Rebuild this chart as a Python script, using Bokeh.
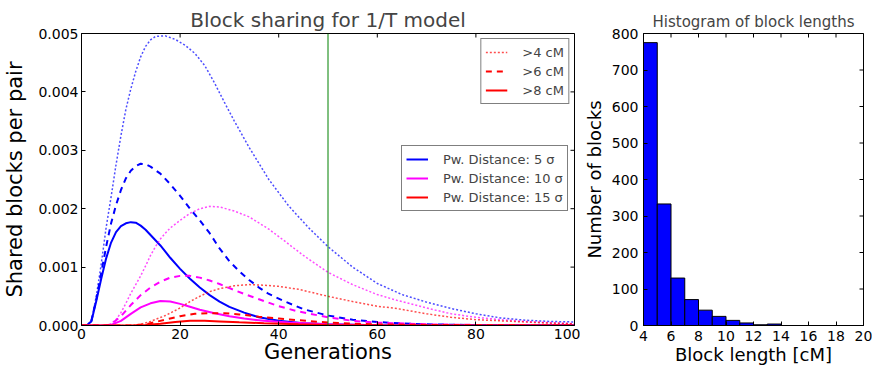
import numpy as np
from bokeh.plotting import figure
from bokeh.layouts import row
from bokeh.models import (Legend, LegendItem, Span, FixedTicker,
                          PrintfTickFormatter, ColumnDataSource)
from bokeh.embed import file_html
from bokeh.resources import INLINE

FONT = "DejaVu Sans"

# ---------------- data (shared blocks per pair, in units of 1e-3) ----------------
cutoff_generation = 50

# Pw. distance 5 sigma
gen_d5_gt4 = [0, 1, 2, 3, 4, 5, 6, 7, 8, 9, 10, 11, 12, 13, 14, 15, 17, 19, 21, 23, 25, 27, 29, 31,
              34, 38, 42, 46, 50, 55, 60, 65, 70, 75, 80, 85, 90, 95, 100]
val_d5_gt4 = [0, 0, 0.08, 0.5, 1.05, 1.68, 2.2, 2.75, 3.25, 3.7, 4.05, 4.35, 4.6, 4.78, 4.89, 4.95,
              4.96, 4.9, 4.8, 4.66, 4.45, 4.15, 3.82, 3.5, 3.05, 2.5, 2.05, 1.68, 1.35, 1.0, 0.72,
              0.53, 0.4, 0.29, 0.2, 0.13, 0.09, 0.07, 0.06]
gen_d5_gt6 = [0, 1, 2, 3, 4, 5, 6, 7, 8, 9, 10, 11, 12, 13, 14, 16, 18, 20, 22, 24, 26, 28, 30, 32,
              34, 36, 38, 41, 45, 50, 55, 60, 65, 70, 80, 90, 100]
val_d5_gt6 = [0, 0, 0.08, 0.45, 0.9, 1.35, 1.75, 2.06, 2.32, 2.52, 2.65, 2.73, 2.77, 2.76, 2.72,
              2.6, 2.42, 2.22, 2.0, 1.8, 1.58, 1.32, 1.1, 0.93, 0.78, 0.65, 0.54, 0.42, 0.28, 0.17,
              0.1, 0.06, 0.035, 0.02, 0.008, 0.003, 0.001]
gen_d5_gt8 = [0, 1, 2, 3, 4, 5, 6, 7, 8, 9, 10, 11, 12, 13, 14, 16, 18, 20, 22, 24, 26, 28, 30, 33,
              36, 40, 45, 50, 60, 70, 80, 90, 100]
val_d5_gt8 = [0, 0, 0.07, 0.42, 0.8, 1.15, 1.42, 1.6, 1.7, 1.75, 1.77, 1.76, 1.71, 1.64, 1.55,
              1.37, 1.16, 0.97, 0.8, 0.65, 0.52, 0.41, 0.32, 0.22, 0.14, 0.08, 0.04, 0.02, 0.005,
              0.002, 0.001, 0, 0]

# Pw. distance 10 sigma
gen_d10_gt4 = [0, 5, 6, 7, 8, 9, 10, 11, 12, 13, 14, 15, 16, 17, 18, 20, 22, 24, 26, 28, 31, 34,
               38, 41, 45, 50, 55, 60, 64, 70, 75, 80, 85, 90, 95, 100]
val_d10_gt4 = [0, 0, 0.03, 0.1, 0.22, 0.38, 0.55, 0.7, 0.85, 1.02, 1.2, 1.35, 1.48, 1.58, 1.67,
               1.8, 1.92, 2.0, 2.04, 2.03, 1.96, 1.86, 1.65, 1.46, 1.2, 0.91, 0.7, 0.53, 0.43,
               0.3, 0.2, 0.14, 0.1, 0.07, 0.05, 0.03]
gen_d10_gt6 = [0, 5, 6, 8, 10, 12, 14, 16, 18, 20, 22, 24, 26, 28, 30, 33, 36, 40, 44, 50, 55, 60,
               70, 80, 90, 100]
val_d10_gt6 = [0, 0, 0.02, 0.16, 0.35, 0.52, 0.65, 0.75, 0.82, 0.85, 0.85, 0.82, 0.77, 0.71, 0.64,
               0.54, 0.45, 0.33, 0.24, 0.14, 0.08, 0.05, 0.02, 0.01, 0.004, 0.002]
gen_d10_gt8 = [0, 5, 6, 8, 10, 12, 14, 16, 18, 20, 22, 24, 27, 30, 33, 37, 42, 50, 60, 70, 100]
val_d10_gt8 = [0, 0, 0.01, 0.08, 0.2, 0.31, 0.38, 0.42, 0.41, 0.37, 0.32, 0.27, 0.21, 0.16, 0.12,
               0.08, 0.05, 0.02, 0.005, 0.002, 0]

# Pw. distance 15 sigma
gen_d15_gt4 = [0, 10, 12, 14, 17, 20, 22, 24, 26, 28, 31, 34, 37, 40, 44, 50, 55, 60, 64, 70, 75,
               80, 85, 90, 95, 100]
val_d15_gt4 = [0, 0, 0.02, 0.07, 0.17, 0.3, 0.41, 0.5, 0.58, 0.63, 0.68, 0.7, 0.69, 0.67, 0.62,
               0.5, 0.41, 0.33, 0.29, 0.2, 0.14, 0.1, 0.08, 0.06, 0.04, 0.03]
gen_d15_gt6 = [0, 10, 13, 15, 18, 20, 23, 26, 29, 32, 36, 40, 44, 50, 55, 60, 70, 80, 100]
val_d15_gt6 = [0, 0, 0.02, 0.06, 0.12, 0.16, 0.2, 0.21, 0.21, 0.19, 0.15, 0.12, 0.09, 0.05, 0.03,
               0.02, 0.01, 0.004, 0]
gen_d15_gt8 = [0, 10, 13, 16, 19, 22, 25, 28, 32, 37, 44, 50, 60, 70, 100]
val_d15_gt8 = [0, 0, 0.01, 0.03, 0.06, 0.08, 0.08, 0.07, 0.055, 0.04, 0.02, 0.01, 0.005, 0.002, 0]

PER_MILLE = 1e-3

distance_labels = ["Pw. Distance: 5 \u03c3", "Pw. Distance: 10 \u03c3", "Pw. Distance: 15 \u03c3"]
threshold_labels = [">4 cM", ">6 cM", ">8 cM"]

# histogram of block lengths
bin_edges = [4, 5, 6, 7, 8, 9, 10, 11, 12, 13, 14, 15, 16, 17, 18, 19, 20]
bin_counts = [775, 333, 130, 71, 42, 25, 14, 7, 2, 4, 0, 0, 0, 0, 0, 0]

# ---------------- styles ----------------
colors = ["#0000ff", "#ff00ff", "#ff0000"]
dashes = ["2 2", "6 5", "solid"]
widths = [1.5, 2, 2]
alphas = [0.7, 1.0, 1.0]

series = [
    [(gen_d5_gt4, val_d5_gt4), (gen_d5_gt6, val_d5_gt6), (gen_d5_gt8, val_d5_gt8)],
    [(gen_d10_gt4, val_d10_gt4), (gen_d10_gt6, val_d10_gt6), (gen_d10_gt8, val_d10_gt8)],
    [(gen_d15_gt4, val_d15_gt4), (gen_d15_gt6, val_d15_gt6), (gen_d15_gt8, val_d15_gt8)],
]


def style_axis(ax, size="14px"):
    ax.major_tick_in = 4
    ax.major_tick_out = 0
    ax.minor_tick_line_color = None
    ax.axis_line_color = "black"
    ax.major_tick_line_color = "black"
    ax.major_label_text_font = FONT
    ax.major_label_text_font_size = size
    ax.major_label_text_color = "black"
    ax.axis_label_text_font = FONT
    ax.axis_label_text_font_style = "normal"
    ax.axis_label_text_color = "black"


def add_mirror_ticks(p, xticks, yticks, xr, yr):
    # inward tick marks on the top and right frame edges (half of each marker is clipped)
    p.scatter(x=xticks, y=[yr[1]] * len(xticks), marker="dash", angle=np.pi / 2, size=8,
              line_color="black", line_width=1)
    p.scatter(x=[xr[1]] * len(yticks), y=yticks, marker="dash", size=8,
              line_color="black", line_width=1)


# ---------------- left figure ----------------
x_range1 = (0, 100)
y_range1 = (0, 0.005)
x_ticks = [0, 20, 40, 60, 80, 100]
y_ticks = [0.0, 0.001, 0.002, 0.003, 0.004, 0.005]

p1 = figure(frame_width=493, frame_height=292, x_range=x_range1, y_range=y_range1,
            output_backend="svg", toolbar_location=None,
            min_border_left=77, min_border_right=6, min_border_top=33, min_border_bottom=41)
p1.title.text = "Block sharing for 1/T model"
p1.title.align = "center"
p1.title.text_font = FONT
p1.title.text_font_size = "20px"
p1.title.text_font_style = "normal"
p1.title.standoff = 4
p1.xgrid.grid_line_color = None
p1.ygrid.grid_line_color = None
p1.outline_line_color = "black"
p1.background_fill_color = "white"

renderers = [[None] * 3 for _ in range(3)]
for i in range(3):
    for j in range(3):
        g, v = series[i][j]
        src = ColumnDataSource(dict(x=g, y=np.array(v) * PER_MILLE))
        renderers[i][j] = p1.line("x", "y", source=src, line_color=colors[i],
                                  line_dash=dashes[j], line_width=widths[j],
                                  line_alpha=alphas[j])

p1.add_layout(Span(location=cutoff_generation, dimension="height",
                   line_color="#008000", line_width=1))

p1.xaxis.ticker = FixedTicker(ticks=x_ticks)
p1.yaxis.ticker = FixedTicker(ticks=y_ticks)
p1.yaxis.formatter = PrintfTickFormatter(format="%.3f")
for ax in (p1.xaxis[0], p1.yaxis[0]):
    style_axis(ax)
    ax.axis_label_text_font_size = "21px"
    ax.major_label_standoff = 3
p1.xaxis.axis_label = "Generations"
p1.yaxis.axis_label = "Shared blocks per pair"
p1.xaxis.axis_label_standoff = -2
p1.yaxis.axis_label_standoff = 8
add_mirror_ticks(p1, x_ticks, y_ticks, x_range1, y_range1)

leg1 = Legend(items=[LegendItem(label=threshold_labels[j], renderers=[renderers[2][j]])
                     for j in range(3)],
              location="top_right")
leg2 = Legend(items=[LegendItem(label=distance_labels[i], renderers=[renderers[i][2]])
                     for i in range(3)],
              location=(320, 114))
for lg in (leg1, leg2):
    lg.label_text_font = FONT
    lg.label_text_font_size = "13px"
    lg.border_line_color = "black"
    lg.border_line_width = 1
    lg.background_fill_color = "white"
    lg.glyph_width = 22
    lg.glyph_height = 18
    lg.label_height = 18
    lg.label_standoff = 15
    lg.spacing = 1
    lg.padding = 4
leg1.margin = 5
leg2.margin = 0
p1.add_layout(leg1)
p1.add_layout(leg2)

# ---------------- right figure ----------------
x_range2 = (4, 20)
y_range2 = (0, 800)
hx_ticks = [4, 6, 8, 10, 12, 14, 16, 18, 20]
hy_ticks = [0, 100, 200, 300, 400, 500, 600, 700, 800]

p2 = figure(frame_width=220, frame_height=292, x_range=x_range2, y_range=y_range2,
            output_backend="svg", toolbar_location=None,
            min_border_left=59, min_border_right=9, min_border_top=33, min_border_bottom=41)
p2.title.text = "Histogram of block lengths"
p2.title.align = "center"
p2.title.text_font = FONT
p2.title.text_font_size = "15px"
p2.title.text_font_style = "normal"
p2.title.standoff = 6
p2.xgrid.grid_line_color = None
p2.ygrid.grid_line_color = None
p2.outline_line_color = "black"

hsrc = ColumnDataSource(dict(left=bin_edges[:-1], right=bin_edges[1:], top=bin_counts))
p2.quad(left="left", right="right", bottom=0, top="top", source=hsrc,
        fill_color="#0000ff", line_color="black", line_width=1)

p2.xaxis.ticker = FixedTicker(ticks=hx_ticks)
p2.yaxis.ticker = FixedTicker(ticks=hy_ticks)
for ax in (p2.xaxis[0], p2.yaxis[0]):
    style_axis(ax)
    ax.axis_label_text_font_size = "18px"
    ax.major_label_standoff = 5
p2.xaxis.axis_label = "Block length [cM]"
p2.yaxis.axis_label = "Number of blocks"
p2.xaxis.axis_label_standoff = 0
p2.yaxis.axis_label_standoff = 4
add_mirror_ticks(p2, hx_ticks, hy_ticks, x_range2, y_range2)

layout = row(p1, p2)
open("out.html", "w").write(file_html(layout, INLINE))
